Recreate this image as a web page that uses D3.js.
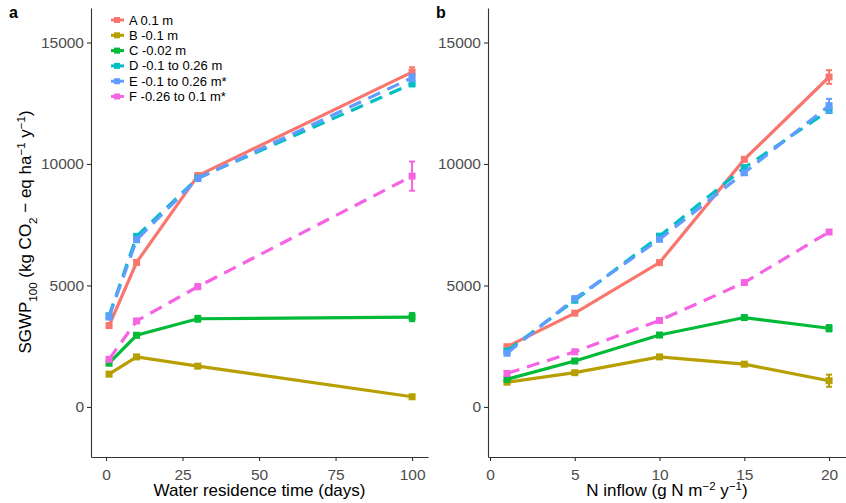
<!DOCTYPE html>
<html><head><meta charset="utf-8">
<script src="https://cdn.jsdelivr.net/npm/d3@7"></script>
<style>body{margin:0;background:#fff}text{font-family:"Liberation Sans",Arial,sans-serif}</style>
</head><body><svg id="c" width="846" height="503"></svg>
<script>
const seriesNames = ["A 0.1 m","B -0.1 m","C -0.02 m","D -0.1 to 0.26 m","E -0.1 to 0.26 m*","F -0.26 to 0.1 m*"];
const colors = ["#F8766D","#B79F00","#00BA38","#00BFC4","#619CFF","#F564E3"];
const dashed = [false,false,false,true,true,true];
const yTicks = [0,5000,10000,15000];
// Panel a: water residence time
const xResidence = [1,10,30,100];
const xResidenceTicks = [0,25,50,75,100];
const aA = [3350,5950,9520,13780], aAerr = [100,80,100,200];
const aB = [1350,2060,1680,420],   aBerr = [60,50,80,60];
const aC = [1800,2950,3630,3700],  aCerr = [60,80,120,170];
const aD = [3750,7020,9420,13300], aDerr = [80,100,80,100];
const aE = [3700,6880,9400,13550], aEerr = [80,80,80,150];
const aF = [1960,3540,4950,9500],  aFerr = [60,60,100,600];
// Panel b: N inflow
const xInflow = [1,5,10,15,20];
const xInflowTicks = [0,5,10,15,20];
const bA = [2480,3860,5940,10190,13580], bAerr = [60,60,60,80,280];
const bB = [1020,1410,2060,1760,1080],   bBerr = [50,50,60,60,250];
const bC = [1140,1890,2960,3680,3240],   bCerr = [50,50,80,80,130];
const bD = [2300,4390,7030,9850,12200],  bDerr = [60,60,60,80,100];
const bE = [2210,4460,6900,9640,12400],  bEerr = [60,60,60,80,280];
const bF = [1380,2270,3560,5120,7200],   bFerr = [50,50,50,60,60];

const svg = d3.select("#c");
const plotTop = 8, plotBottom = 457;
const y = d3.scaleLinear().domain([-2060,16420]).range([plotBottom, plotTop]);

function panel(opts){
  const g = svg.append("g");
  const x = d3.scaleLinear().domain(opts.xdom).range([opts.left, opts.right]);
  const ax = g.append("g").attr("transform",`translate(0,${plotBottom})`)
    .call(d3.axisBottom(x).tickValues(opts.xticks).tickFormat(d3.format("d")).tickSize(4).tickPadding(4).tickSizeOuter(0));
  const ay = g.append("g").attr("transform",`translate(${opts.left},0)`)
    .call(d3.axisLeft(y).tickValues(yTicks).tickFormat(d3.format("d")).tickSize(4).tickPadding(3).tickSizeOuter(0));
  [ax,ay].forEach(a=>{
    a.select(".domain").attr("stroke","#333").attr("stroke-width",1.1);
    a.selectAll(".tick line").attr("stroke","#333").attr("stroke-width",1.1);
    a.selectAll(".tick text").attr("fill","#4D4D4D").attr("font-size",15.5).attr("font-family","Liberation Sans, Arial, sans-serif");
  });
  ax.selectAll(".tick text").attr("dy","0.95em");
  const line = d3.line().x((d,i)=>x(opts.xs[i])).y(d=>y(d));
  opts.data.forEach((s,k)=>{
    const gg = g.append("g");
    gg.append("path").datum(s.v).attr("d",line).attr("fill","none")
      .attr("stroke",colors[k]).attr("stroke-width",3.2)
      .attr("stroke-dasharray",dashed[k]?"13,8":null);
    s.v.forEach((v,i)=>{
      const cx = x(opts.xs[i]);
      gg.append("line").attr("x1",cx).attr("x2",cx).attr("y1",y(v-s.e[i])).attr("y2",y(v+s.e[i]))
        .attr("stroke",colors[k]).attr("stroke-width",2);
      [v-s.e[i],v+s.e[i]].forEach(w=>gg.append("line").attr("x1",cx-3).attr("x2",cx+3)
        .attr("y1",y(w)).attr("y2",y(w)).attr("stroke",colors[k]).attr("stroke-width",2));
      gg.append("rect").attr("x",cx-3.5).attr("y",y(v)-3.5).attr("width",7).attr("height",7).attr("fill",colors[k]);
    });
  });
  g.append("text").attr("x",opts.labelX).attr("y",18).attr("font-weight","bold").attr("font-size",16).text(opts.label);
  g.append("text").attr("x",(opts.left+opts.right)/2).attr("y",496).attr("text-anchor","middle")
    .attr("font-size",17).attr("fill","#000").call(opts.xtitle);
  return g;
}

panel({xdom:[-4.9,105.2], left:91, right:428, xticks:xResidenceTicks, xs:xResidence, label:"a", labelX:9,
  data:[{v:aA,e:aAerr},{v:aB,e:aBerr},{v:aC,e:aCerr},{v:aD,e:aDerr},{v:aE,e:aEerr},{v:aF,e:aFerr}],
  xtitle:t=>t.text("Water residence time (days)")});
panel({xdom:[-0.12,21.0], left:488, right:846, xticks:xInflowTicks, xs:xInflow, label:"b", labelX:436,
  data:[{v:bA,e:bAerr},{v:bB,e:bBerr},{v:bC,e:bCerr},{v:bD,e:bDerr},{v:bE,e:bEerr},{v:bF,e:bFerr}],
  xtitle:t=>{
    t.append("tspan").text("N inflow (g N m");
    t.append("tspan").attr("baseline-shift","super").attr("font-size",11.5).text("\u22122");
    t.append("tspan").text(" y");
    t.append("tspan").attr("baseline-shift","super").attr("font-size",11.5).text("\u22121");
    t.append("tspan").text(")");
  }});

const yt = svg.append("text").attr("transform","translate(31,232) rotate(-90)").attr("text-anchor","middle").attr("font-size",17);
yt.append("tspan").text("SGWP");
yt.append("tspan").attr("baseline-shift","sub").attr("font-size",11.5).text("100");
yt.append("tspan").text(" (kg CO");
yt.append("tspan").attr("baseline-shift","sub").attr("font-size",11.5).text("2");
yt.append("tspan").text(" \u2212 eq ha");
yt.append("tspan").attr("baseline-shift","super").attr("font-size",11.5).text("\u22121");
yt.append("tspan").text(" y");
yt.append("tspan").attr("baseline-shift","super").attr("font-size",11.5).text("\u22121");
yt.append("tspan").text(")");

const lg = svg.append("g");
seriesNames.forEach((n,k)=>{
  const yy = 20 + k*15.3;
  lg.append("line").attr("x1",111).attr("x2",124).attr("y1",yy).attr("y2",yy).attr("stroke",colors[k]).attr("stroke-width",3);
  lg.append("rect").attr("x",114).attr("y",yy-3).attr("width",6).attr("height",6).attr("fill",colors[k]);
  lg.append("text").attr("x",129).attr("y",yy+4.5).attr("font-size",13).attr("fill","#000").text(n);
});
</script></body></html>
